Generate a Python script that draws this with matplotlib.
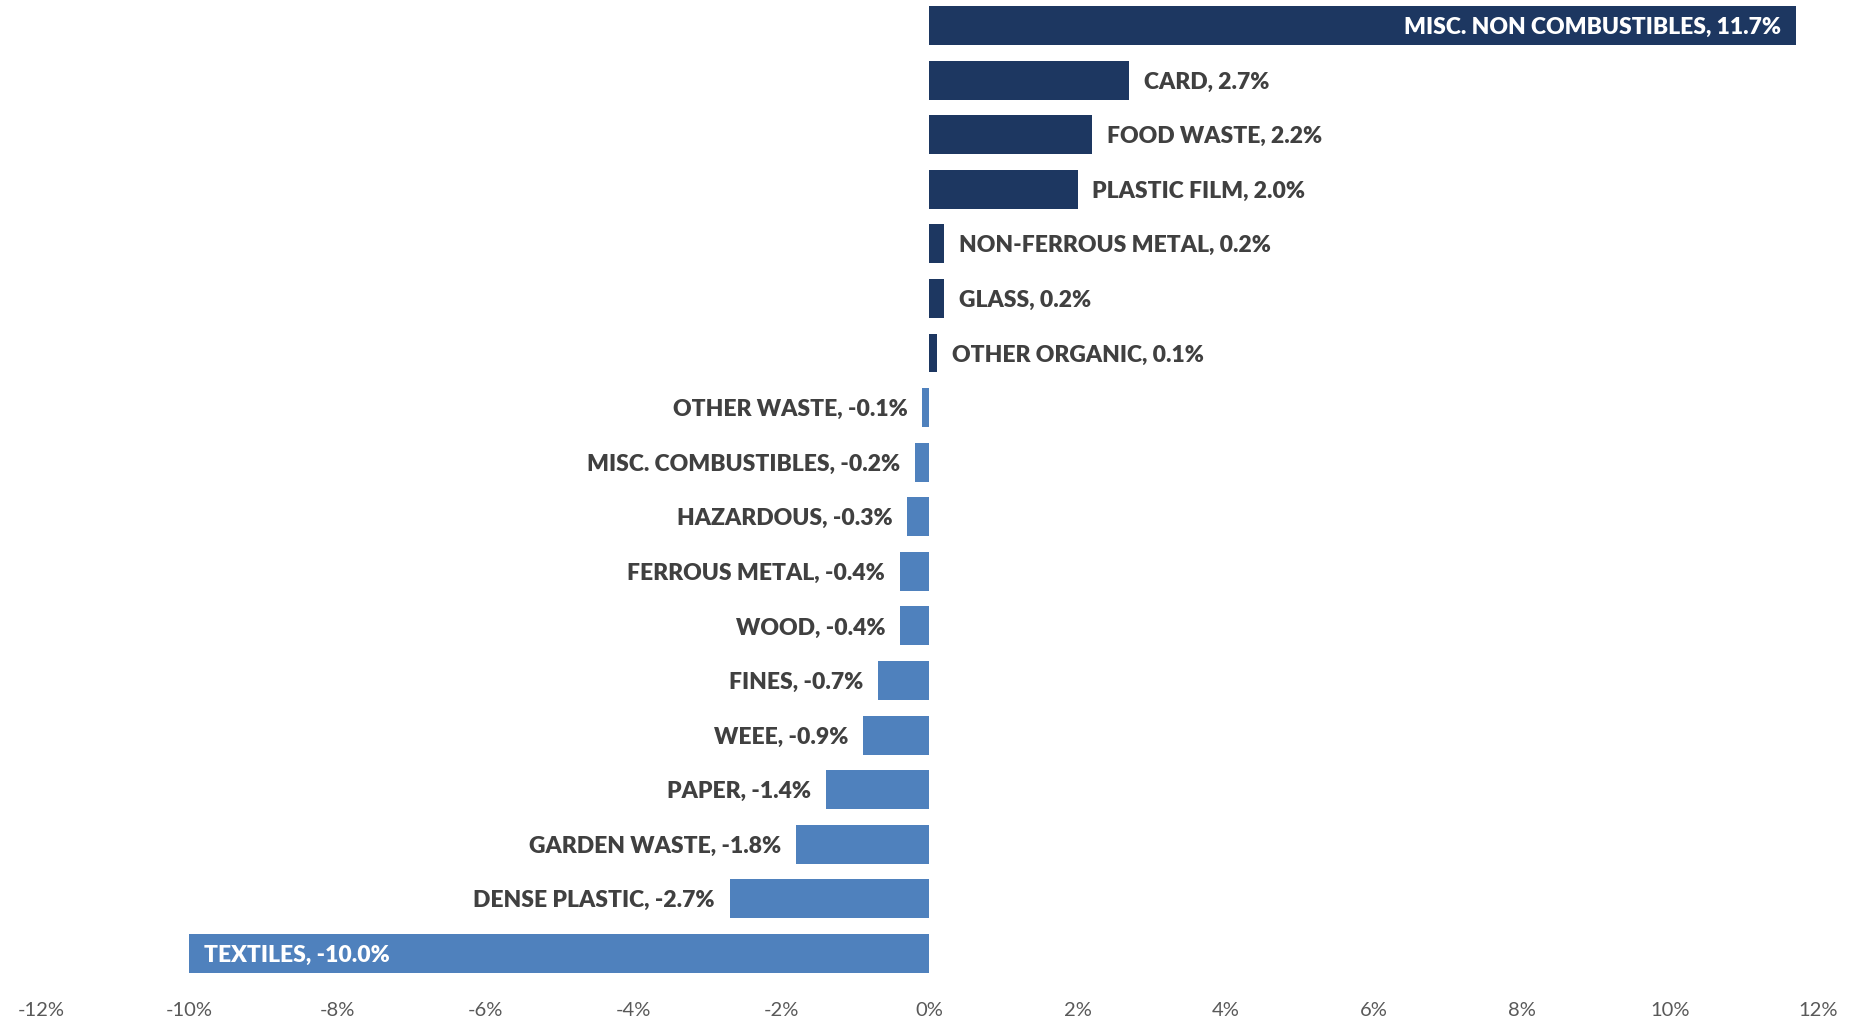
import matplotlib
matplotlib.use("Agg")
import matplotlib.pyplot as plt
from matplotlib.ticker import FuncFormatter

# Change in waste composition by material (percentage points)
categories = [
    "MISC. NON COMBUSTIBLES", "CARD", "FOOD WASTE", "PLASTIC FILM",
    "NON-FERROUS METAL", "GLASS", "OTHER ORGANIC", "OTHER WASTE",
    "MISC. COMBUSTIBLES", "HAZARDOUS", "FERROUS METAL", "WOOD", "FINES",
    "WEEE", "PAPER", "GARDEN WASTE", "DENSE PLASTIC", "TEXTILES",
]
changes = [11.7, 2.7, 2.2, 2.0, 0.2, 0.2, 0.1, -0.1, -0.2, -0.3, -0.4,
           -0.4, -0.7, -0.9, -1.4, -1.8, -2.7, -10.0]
x_ticks = list(range(-12, 13, 2))

POS_COLOR = "#1D3761"
NEG_COLOR = "#4F81BD"
LABEL_COLOR = "#404040"
TICK_COLOR = "#595959"
FONT = ["Lato", "DejaVu Sans"]

W, H = 1856, 1025
fig = plt.figure(figsize=(W / 100, H / 100), dpi=100)
ax = fig.add_axes([41 / W, 0.0431, 1777 / W, 0.9587])

ypos = list(range(len(categories)))
colors = [POS_COLOR if v >= 0 else NEG_COLOR for v in changes]
ax.barh(ypos, changes, height=0.714, color=colors, zorder=2)

ax.set_xlim(-12, 12)
ax.set_ylim(len(categories) - 0.5, -0.5)

# Data labels: outside the bar end, except the two extremes which sit inside
offset = 0.2
base_shift = 0.155  # baseline below the bar centre so the capitals look centred
for y, name, v in zip(ypos, categories, changes):
    text = f"{name}, {v:.1f}%"
    inside = abs(v) > 5
    if v >= 0:
        x = v - offset if inside else v + offset
        ha = "right" if inside else "left"
    else:
        x = v + offset if inside else v - offset
        ha = "left" if inside else "right"
    ax.text(x, y + base_shift, text, ha=ha, va="baseline",
            color="white" if inside else LABEL_COLOR,
            fontsize=16.5, fontweight="heavy", family=FONT)

ax.set_xticks(x_ticks)
ax.xaxis.set_major_formatter(FuncFormatter(lambda v, _: f"{v:.0f}%"))
ax.tick_params(axis="x", length=0, pad=15, labelsize=14.5, labelcolor=TICK_COLOR)
for lbl in ax.get_xticklabels():
    lbl.set_family(FONT)
ax.set_yticks([])
for s in ax.spines.values():
    s.set_visible(False)

fig.savefig("out.png", dpi=100)
